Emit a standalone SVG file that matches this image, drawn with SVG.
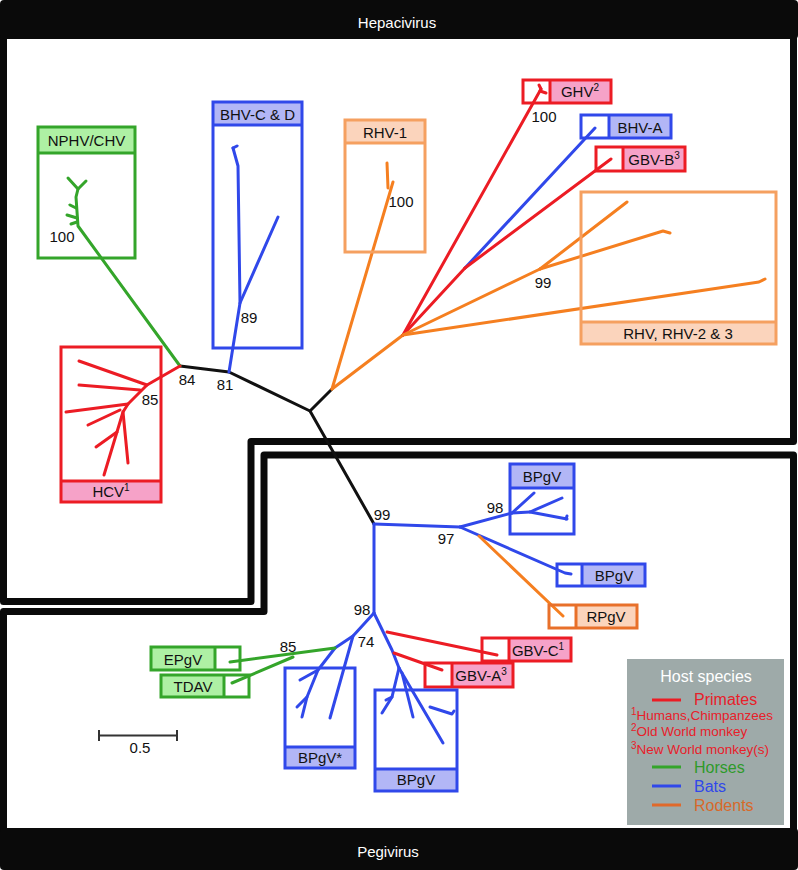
<svg xmlns="http://www.w3.org/2000/svg" width="798" height="870" viewBox="0 0 798 870">
<style>
text{font-family:"Liberation Sans",Arial,sans-serif;font-size:15px;fill:#111}
.c{text-anchor:middle}
.w{fill:#fff}
.frame{fill:none;stroke:#0a0a0a;stroke-width:7;stroke-linejoin:round}
.box{fill:none;stroke-width:3}
.e{fill:none;stroke-width:3;stroke-linecap:round;stroke-linejoin:round}
.k{stroke:#111}
.r{stroke:#ec1c24}
.g{stroke:#34a52a}
.b{stroke:#3048ea}
.o{stroke:#f57f20}
.rB{stroke:#ec1c24}.gB{stroke:#34a52a}.bB{stroke:#3048ea}.oB{stroke:#f5a060}.o2B{stroke:#e8702a}
.rF{fill:#f6a2c8}.gF{fill:#aef0a4}.bF{fill:#b2b6f6}.oF{fill:#fbd4bc}
.sup{font-size:10px}
.lg{font-size:13.5px;fill:#e8202a}
</style>

<g id="frames">
  <path class="frame" d="M3.5,20 V601.5 H251 V441.5 H793.5 V20"/>
  <rect x="0" y="0" width="798" height="39" rx="4" fill="#0a0a0a"/>
  <text class="c w" x="397" y="28">Hepacivirus</text>
  <path class="frame" d="M3.5,611.5 H264 V455 H793.5 V850 H3.5 Z"/>
  <rect x="0" y="828" width="798" height="42" rx="4" fill="#0a0a0a"/>
  <text class="c w" x="388" y="857">Pegivirus</text>
</g>

<g id="connectors">
  <!-- backbone -->
  <polyline class="e k" points="180,366 229,372 310,411 374,524"/>
  <line class="e k" x1="310" y1="411" x2="332" y2="389"/>
  <!-- NPHV/CHV -->
  <polyline class="e g" points="180,366 78,226 76,197 78,189"/>
  <line class="e g" x1="78" y1="189" x2="68" y2="178"/>
  <line class="e g" x1="79" y1="188" x2="86" y2="181"/>
  <line class="e g" x1="76" y1="208" x2="70" y2="205"/>
  <line class="e g" x1="77" y1="218" x2="67" y2="215"/>
  <line class="e g" x1="77" y1="222" x2="71" y2="224"/>
  <!-- HCV -->
  <polyline class="e r" points="180,366 147,385 128,404 123,412 128,463"/>
  <line class="e r" x1="147" y1="385" x2="79" y2="361"/>
  <line class="e r" x1="140" y1="390" x2="79" y2="385"/>
  <line class="e r" x1="128" y1="404" x2="66" y2="412"/>
  <line class="e r" x1="120" y1="410" x2="88" y2="425"/>
  <line class="e r" x1="123" y1="412" x2="104" y2="475"/>
  <line class="e r" x1="117" y1="432" x2="96" y2="447"/>
  <!-- BHV-C & D -->
  <polyline class="e b" points="229,372 240,303 238,166 233,148"/>
  <line class="e b" x1="233" y1="148" x2="237" y2="146"/>
  <line class="e b" x1="240" y1="303" x2="278" y2="217"/>
  <!-- RHV-1 -->
  <polyline class="e o" points="332,389 393,182"/>
  <line class="e o" x1="388" y1="188" x2="387" y2="163"/>
  <!-- Hepaci right clade -->
  <line class="e o" x1="332" y1="389" x2="403" y2="335"/>
  <line class="e r" x1="403" y1="335" x2="541" y2="89"/>
  <line class="e r" x1="540" y1="91" x2="546" y2="93"/>
  <line class="e r" x1="541" y1="89" x2="539" y2="85"/>
  <line class="e b" x1="465" y1="268" x2="595" y2="128"/>
  <line class="e r" x1="403" y1="335" x2="465" y2="268"/>
  <line class="e r" x1="465" y1="268" x2="611" y2="159"/>
  <line class="e o" x1="403" y1="335" x2="540" y2="269"/>
  <line class="e o" x1="540" y1="269" x2="627" y2="202"/>
  <polyline class="e o" points="540,269 663,231 670,233"/>
  <polyline class="e o" points="403,335 759,282 765,279"/>
  <!-- Pegivirus -->
  <polyline class="e b" points="374,524 374,613"/>
  <polyline class="e b" points="374,524 460,527"/>
  <line class="e b" x1="460" y1="527" x2="512" y2="513"/>
  <line class="e b" x1="512" y1="513" x2="534" y2="493"/>
  <polyline class="e b" points="512,513 530,512 562,498"/>
  <polyline class="e b" points="530,512 567,519"/>
  <line class="e b" x1="566" y1="519" x2="567" y2="516"/>
  <polyline class="e b" points="460,527 565,573 571,574"/>
  <line class="e o" x1="479" y1="536" x2="563" y2="616"/>
  <!-- 98 lower -->
  <polyline class="e b" points="374,613 353,636 335,648 318,670 307,697 302,717"/>
  <line class="e b" x1="318" y1="670" x2="300" y2="680"/>
  <line class="e b" x1="307" y1="697" x2="297" y2="707"/>
  <line class="e b" x1="353" y1="636" x2="330" y2="718"/>
  <line class="e g" x1="335" y1="648" x2="230" y2="662"/>
  <line class="e g" x1="293" y1="657" x2="232" y2="683"/>
  <polyline class="e b" points="374,613 392,650 399,668"/>
  <line class="e r" x1="387" y1="632" x2="497" y2="655"/>
  <line class="e r" x1="394" y1="653" x2="442" y2="670"/>
  <polyline class="e b" points="399,668 392,697 382,713"/>
  <line class="e b" x1="392" y1="697" x2="386" y2="700"/>
  <line class="e b" x1="402" y1="673" x2="413" y2="717"/>
  <line class="e b" x1="399" y1="668" x2="443" y2="743"/>
  <polyline class="e b" points="430,707 452,714 454,711"/>
</g>

<g id="nphv">
  <rect class="gF" x="38" y="127" width="97" height="26"/>
  <rect class="box gB" x="38" y="127" width="97" height="131"/>
  <line class="box gB" x1="38" y1="153" x2="135" y2="153"/>
  <text class="c" x="86.5" y="146">NPHV/CHV</text>
</g>
<g id="bhvcd">
  <rect class="bF" x="213" y="102" width="89" height="23"/>
  <rect class="box bB" x="213" y="102" width="89" height="246"/>
  <line class="box bB" x1="213" y1="125" x2="302" y2="125"/>
  <text class="c" x="257.5" y="120">BHV-C &amp; D</text>
</g>
<g id="rhv1">
  <rect class="oF" x="345" y="120" width="80" height="23"/>
  <rect class="box oB" x="345" y="120" width="80" height="132"/>
  <line class="box oB" x1="345" y1="143" x2="425" y2="143"/>
  <text class="c" x="385" y="138">RHV-1</text>
</g>
<g id="ghv">
  <rect class="rF" x="550" y="80" width="61" height="23"/>
  <rect class="box rB" x="523" y="80" width="88" height="23"/>
  <line class="box rB" x1="550" y1="80" x2="550" y2="103"/>
  <text class="c" x="580" y="97">GHV<tspan class="sup" dy="-6">2</tspan></text>
</g>
<g id="bhva">
  <rect class="bF" x="609" y="115" width="62" height="23"/>
  <rect class="box bB" x="581" y="115" width="90" height="23"/>
  <line class="box bB" x1="609" y1="115" x2="609" y2="138"/>
  <text class="c" x="640" y="133">BHV-A</text>
</g>
<g id="gbvb">
  <rect class="rF" x="623" y="147" width="62" height="24"/>
  <rect class="box rB" x="596" y="147" width="89" height="24"/>
  <line class="box rB" x1="623" y1="147" x2="623" y2="171"/>
  <text class="c" x="654" y="165">GBV-B<tspan class="sup" dy="-6">3</tspan></text>
</g>
<g id="rhv23">
  <rect class="oF" x="581" y="322" width="195" height="22"/>
  <rect class="box oB" x="581" y="192" width="195" height="152"/>
  <line class="box oB" x1="581" y1="322" x2="776" y2="322"/>
  <text class="c" x="678" y="339">RHV, RHV-2 &amp; 3</text>
</g>
<g id="hcv">
  <rect class="rF" x="61" y="481" width="100" height="21"/>
  <rect class="box rB" x="61" y="347" width="100" height="155"/>
  <line class="box rB" x1="61" y1="481" x2="161" y2="481"/>
  <text class="c" x="111" y="497">HCV<tspan class="sup" dy="-6">1</tspan></text>
</g>
<g id="bpgv1">
  <rect class="bF" x="510" y="464" width="64" height="24"/>
  <rect class="box bB" x="510" y="464" width="64" height="70"/>
  <line class="box bB" x1="510" y1="488" x2="574" y2="488"/>
  <text class="c" x="542" y="482">BPgV</text>
</g>
<g id="bpgv2">
  <rect class="bF" x="582" y="564" width="63" height="22"/>
  <rect class="box bB" x="557" y="564" width="88" height="22"/>
  <line class="box bB" x1="582" y1="564" x2="582" y2="586"/>
  <text class="c" x="614" y="581">BPgV</text>
</g>
<g id="rpgv">
  <rect class="oF" x="576" y="605" width="61" height="23"/>
  <rect class="box o2B" x="549" y="605" width="88" height="23"/>
  <line class="box o2B" x1="576" y1="605" x2="576" y2="628"/>
  <text class="c" x="606" y="622">RPgV</text>
</g>
<g id="gbvc">
  <rect class="rF" x="509" y="638" width="62" height="23"/>
  <rect class="box rB" x="482" y="638" width="89" height="23"/>
  <line class="box rB" x1="509" y1="638" x2="509" y2="661"/>
  <text class="c" x="538" y="656">GBV-C<tspan class="sup" dy="-6">1</tspan></text>
</g>
<g id="gbva">
  <rect class="rF" x="452" y="663" width="61" height="24"/>
  <rect class="box rB" x="425" y="663" width="88" height="24"/>
  <line class="box rB" x1="452" y1="663" x2="452" y2="687"/>
  <text class="c" x="481" y="681">GBV-A<tspan class="sup" dy="-6">3</tspan></text>
</g>
<g id="epgv">
  <rect class="gF" x="151" y="647" width="64" height="23"/>
  <rect class="box gB" x="151" y="647" width="89" height="23"/>
  <line class="box gB" x1="215" y1="647" x2="215" y2="670"/>
  <text class="c" x="183" y="665">EPgV</text>
</g>
<g id="tdav">
  <rect class="gF" x="161" y="675" width="63" height="22"/>
  <rect class="box gB" x="161" y="675" width="88" height="22"/>
  <line class="box gB" x1="224" y1="675" x2="224" y2="697"/>
  <text class="c" x="193" y="692">TDAV</text>
</g>
<g id="bpgvstar">
  <rect class="bF" x="285" y="747" width="70" height="21"/>
  <rect class="box bB" x="285" y="668" width="70" height="100"/>
  <line class="box bB" x1="285" y1="747" x2="355" y2="747"/>
  <text class="c" x="320" y="763">BPgV*</text>
</g>
<g id="bpgv3">
  <rect class="bF" x="375" y="769" width="82" height="22"/>
  <rect class="box bB" x="375" y="690" width="82" height="101"/>
  <line class="box bB" x1="375" y1="769" x2="457" y2="769"/>
  <text class="c" x="416" y="785">BPgV</text>
</g>

<g id="bootstrap">
  <text class="c" x="62" y="242">100</text>
  <text class="c" x="249" y="323">89</text>
  <text class="c" x="187" y="385">84</text>
  <text class="c" x="225" y="390">81</text>
  <text class="c" x="150" y="405">85</text>
  <text class="c" x="401" y="207">100</text>
  <text class="c" x="544" y="122">100</text>
  <text class="c" x="543" y="288">99</text>
  <text class="c" x="382" y="520">99</text>
  <text class="c" x="362" y="615">98</text>
  <text class="c" x="446" y="544">97</text>
  <text class="c" x="495" y="513">98</text>
  <text class="c" x="366" y="647">74</text>
  <text class="c" x="288" y="652">85</text>
</g>

<g id="scale">
  <line x1="99" y1="735.5" x2="177" y2="735.5" stroke="#333" stroke-width="2"/>
  <line x1="99" y1="730" x2="99" y2="741" stroke="#333" stroke-width="2"/>
  <line x1="177" y1="730" x2="177" y2="741" stroke="#333" stroke-width="2"/>
  <text class="c" x="140" y="753">0.5</text>
</g>

<g id="legend">
  <rect x="627" y="659" width="157" height="166" fill="#9eaaa9"/>
  <text class="c w" x="706" y="682" style="font-size:16px">Host species</text>
  <line x1="652" y1="700" x2="681" y2="700" stroke="#ec1c24" stroke-width="3"/>
  <text x="694" y="705" style="font-size:16px;fill:#e8202a">Primates</text>
  <text class="lg" x="631" y="720"><tspan class="sup" dy="-5">1</tspan><tspan dy="5">Humans,Chimpanzees</tspan></text>
  <text class="lg" x="631" y="736"><tspan class="sup" dy="-5">2</tspan><tspan dy="5">Old World monkey</tspan></text>
  <text class="lg" x="631" y="754"><tspan class="sup" dy="-5">3</tspan><tspan dy="5">New World monkey(s)</tspan></text>
  <line x1="652" y1="767" x2="681" y2="767" stroke="#34a52a" stroke-width="3"/>
  <text x="694" y="773" style="font-size:16px;fill:#2e9a2a">Horses</text>
  <line x1="652" y1="786" x2="681" y2="786" stroke="#3048ea" stroke-width="3"/>
  <text x="694" y="792" style="font-size:16px;fill:#3048ea">Bats</text>
  <line x1="652" y1="805" x2="681" y2="805" stroke="#e0692a" stroke-width="3"/>
  <text x="694" y="811" style="font-size:16px;fill:#d8692a">Rodents</text>
</g>
</svg>
